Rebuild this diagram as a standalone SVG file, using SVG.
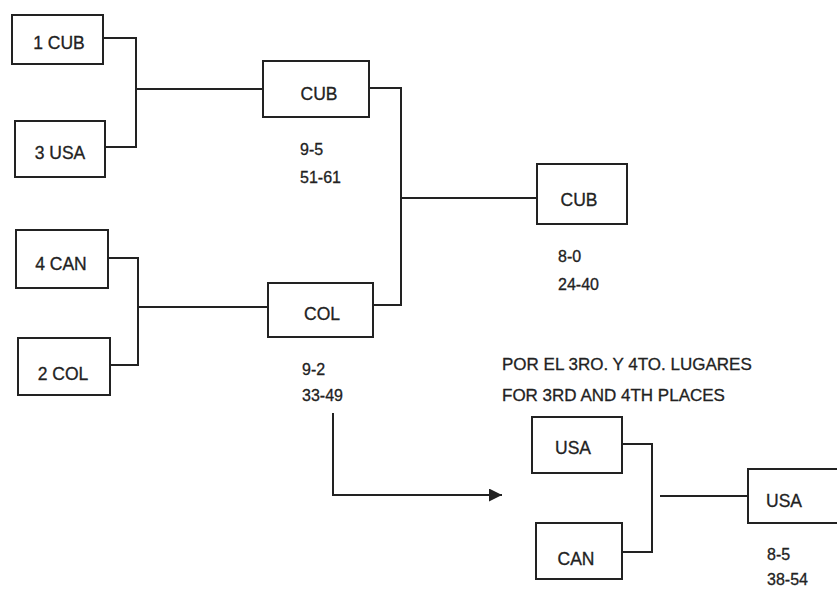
<svg xmlns="http://www.w3.org/2000/svg" width="837" height="589" viewBox="0 0 837 589">
<style>
.box{fill:#fff;stroke:#222;stroke-width:2}
.ln{fill:none;stroke:#222;stroke-width:2}
.lb{font-family:"Liberation Sans",Arial,sans-serif;font-size:17.5px;fill:#222;stroke:#222;stroke-width:0.3;text-anchor:middle}
.sc{font-family:"Liberation Sans",Arial,sans-serif;font-size:16px;fill:#222;stroke:#222;stroke-width:0.3}
.tt{font-family:"Liberation Sans",Arial,sans-serif;font-size:17px;fill:#222;stroke:#222;stroke-width:0.3}
</style>
<defs>
<marker id="ah" viewBox="0 0 10 10" refX="10" refY="5" markerWidth="21" markerHeight="13" markerUnits="userSpaceOnUse" orient="auto">
<path d="M0,0 L10,5 L0,10 z" fill="#222"/>
</marker>
</defs>
<rect width="837" height="589" fill="#fff"/>
<g id="connectors">
<path class="ln" d="M103,38 H136 V147 H105"/>
<path class="ln" d="M136,89 H263"/>
<path class="ln" d="M108,258 H138 V365 H110"/>
<path class="ln" d="M138,307 H268"/>
<path class="ln" d="M369,88 H401 V305 H373"/>
<path class="ln" d="M401,198 H537"/>
<path class="ln" d="M333,413 V495 H502" marker-end="url(#ah)"/>
<path class="ln" d="M622,444 H652 V552 H622"/>
<path class="ln" d="M660,496 H748"/>
</g>
<g id="n1cub"><rect class="box" x="12" y="15" width="91" height="49"/><text class="lb" x="59" y="49">1 CUB</text></g>
<g id="n3usa"><rect class="box" x="15" y="121" width="90" height="56"/><text class="lb" x="60" y="159">3 USA</text></g>
<g id="n4can"><rect class="box" x="16" y="230" width="92" height="58"/><text class="lb" x="61" y="270">4 CAN</text></g>
<g id="n2col"><rect class="box" x="18" y="338" width="92" height="57"/><text class="lb" x="63" y="380">2 COL</text></g>
<g id="sfcub"><rect class="box" x="263" y="61" width="106" height="56"/><text class="lb" x="319" y="100">CUB</text>
<text class="sc" x="300" y="155">9-5</text><text class="sc" x="300" y="183">51-61</text></g>
<g id="sfcol"><rect class="box" x="268" y="283" width="105" height="54"/><text class="lb" x="322" y="320">COL</text>
<text class="sc" x="302" y="375">9-2</text><text class="sc" x="302" y="401">33-49</text></g>
<g id="fcub"><rect class="box" x="537" y="164" width="90" height="60"/><text class="lb" x="579" y="206">CUB</text>
<text class="sc" x="558" y="262">8-0</text><text class="sc" x="558" y="290">24-40</text></g>
<g id="title"><text class="tt" x="502" y="370">POR EL 3RO. Y 4TO. LUGARES</text><text class="tt" x="502" y="401">FOR 3RD AND 4TH PLACES</text></g>
<g id="tusa"><rect class="box" x="532" y="417" width="90" height="56"/><text class="lb" x="573" y="454">USA</text></g>
<g id="tcan"><rect class="box" x="536" y="523" width="86" height="56"/><text class="lb" x="576" y="565">CAN</text></g>
<g id="tfusa"><rect class="box" x="748" y="469" width="100" height="54"/><text class="lb" x="784" y="507">USA</text>
<text class="sc" x="767" y="560">8-5</text><text class="sc" x="767" y="585">38-54</text></g>
</svg>
